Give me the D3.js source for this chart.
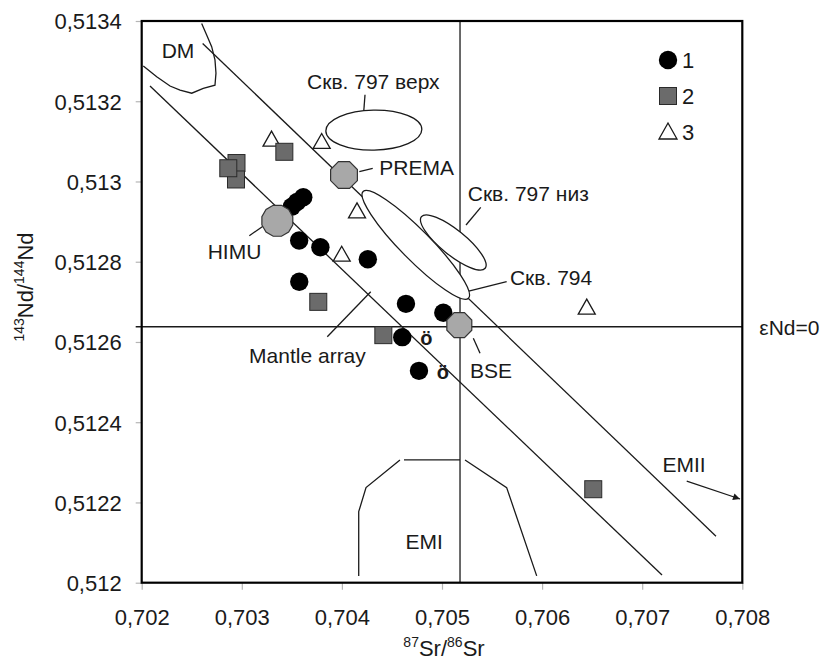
<!DOCTYPE html>
<html>
<head>
<meta charset="utf-8">
<script src="https://cdn.jsdelivr.net/npm/d3@7"></script>
<style>
  html, body { margin: 0; padding: 0; background: #fff; }
  svg { display: block; font-family: "Liberation Sans", Arial, sans-serif; }
</style>
</head>
<body>
<svg id="chart" width="826" height="662"></svg>
<script>
// ---- axis ticks ----
const xTicks = [0.702, 0.703, 0.704, 0.705, 0.706, 0.707, 0.708];
const xTickLabels = ["0,702", "0,703", "0,704", "0,705", "0,706", "0,707", "0,708"];
const yTicks = [0.512, 0.5122, 0.5124, 0.5126, 0.5128, 0.513, 0.5132, 0.5134];
const yTickLabels = ["0,512", "0,5122", "0,5124", "0,5126", "0,5128", "0,513", "0,5132", "0,5134"];

// ---- samples: [87Sr/86Sr, 143Nd/144Nd] ----
const group1 = [
  [0.703499, 0.512937], [0.703551, 0.512949], [0.703614, 0.512961],
  [0.703573, 0.512853], [0.703785, 0.512836], [0.704259, 0.512806],
  [0.703574, 0.512750], [0.704640, 0.512695], [0.705013, 0.512673],
  [0.704603, 0.512612], [0.704770, 0.512528]
];
const group2 = [
  [0.702947, 0.513046], [0.702942, 0.513005], [0.702865, 0.513033],
  [0.703425, 0.513074], [0.703764, 0.512700], [0.704414, 0.512617],
  [0.706511, 0.512233]
];
const group3 = [
  [0.703297, 0.513107], [0.703798, 0.513101], [0.704151, 0.512928],
  [0.703998, 0.512820], [0.706446, 0.512688]
];
// samples marked with "ö"
const markedSamples = [[0.704603, 0.512612], [0.704770, 0.512528]];

// ---- mantle reservoirs ----
const reservoirNames = ["HIMU", "PREMA", "BSE"];
const reservoirSr = [0.703355, 0.704021, 0.705173];
const reservoirNd = [0.512902, 0.513016, 0.512642];

// ---- reference lines ----
const bulkEarthSr = 0.70518;
const epsNdZero = 0.512638;
const mantleArrayUpper = [[0.702609, 0.513344], [0.707737, 0.512116]];
const mantleArrayLower = [[0.702083, 0.513238], [0.707198, 0.512019]];

// ---- reservoir fields ----
const dmOutline = [
  [0.702599, 0.513394], [0.702649, 0.513365], [0.702699, 0.513336], [0.702732, 0.513303],
  [0.702742, 0.513270], [0.702732, 0.513240], [0.702615, 0.513232], [0.702500, 0.513220],
  [0.702383, 0.513228], [0.702283, 0.513238], [0.702150, 0.513261], [0.702016, 0.513288]
];
const emiOutline = [
  [[0.704168, 0.512017], [0.704168, 0.512177], [0.704241, 0.512237], [0.704580, 0.512306]],
  [[0.704620, 0.512306], [0.705180, 0.512306]],
  [[0.705230, 0.512306], [0.705646, 0.512237], [0.705946, 0.512017]]
];

// ---- drill-hole fields (centres) ----
const holeNames = ["Скв. 797 верх", "Скв. 797 низ", "Скв. 794"];
const holeSr = [0.704319, 0.705113, 0.704738];
const holeNd = [0.513128, 0.512848, 0.512842];

// ---- legend ----
const legendLabels = ["1", "2", "3"];

// =========================================================
const svg = d3.select("#chart");
const L = 141.7, R = 742.3, T = 21, B = 582.7;

const x = d3.scaleLinear().domain([0.702, 0.708]).range([L, R]);
const y = d3.scaleLinear().domain([0.512, 0.5134]).range([B, T]);
const line = d3.line().x(d => x(d[0])).y(d => y(d[1]));

const INK = "#1a1a1a";
const TICK_FONT = 22, NOTE_FONT = 21;

// axes
const xAxis = svg.append("g")
  .attr("transform", `translate(0,${B})`)
  .call(d3.axisBottom(x).tickValues(xTicks)
    .tickFormat((d, i) => xTickLabels[i]).tickSize(7).tickPadding(20));
const yAxis = svg.append("g")
  .attr("transform", `translate(${L},0)`)
  .call(d3.axisLeft(y).tickValues(yTicks)
    .tickFormat((d, i) => yTickLabels[i]).tickSize(6).tickPadding(14));
[xAxis, yAxis].forEach(g => {
  g.select(".domain").remove();
  g.selectAll(".tick line").attr("stroke", "#b5b5b5").attr("stroke-width", 1.2);
  g.selectAll(".tick text")
    .attr("font-family", '"Liberation Sans", Arial, sans-serif')
    .attr("font-size", TICK_FONT).attr("fill", INK);
});
yAxis.selectAll(".tick text").attr("dy", "0.36em");

// axis titles
const xTitle = svg.append("text")
  .attr("x", 444).attr("y", 656).attr("text-anchor", "middle")
  .attr("font-size", TICK_FONT).attr("fill", INK);
xTitle.append("tspan").attr("font-size", 14).attr("dy", -9).text("87");
xTitle.append("tspan").attr("dy", 9).text("Sr/");
xTitle.append("tspan").attr("font-size", 14).attr("dy", -9).text("86");
xTitle.append("tspan").attr("dy", 9).text("Sr");

const yTitle = svg.append("text")
  .attr("transform", "translate(33,287) rotate(-90)")
  .attr("text-anchor", "middle")
  .attr("font-size", TICK_FONT).attr("fill", INK);
yTitle.append("tspan").attr("font-size", 14).attr("dy", -9).text("143");
yTitle.append("tspan").attr("dy", 9).text("Nd/");
yTitle.append("tspan").attr("font-size", 14).attr("dy", -9).text("144");
yTitle.append("tspan").attr("dy", 9).text("Nd");

// reference lines
const lines = svg.append("g").attr("fill", "none").attr("stroke", INK).attr("stroke-width", 1.3);
lines.append("line")
  .attr("x1", x(bulkEarthSr)).attr("x2", x(bulkEarthSr)).attr("y1", T).attr("y2", B);
lines.append("line")
  .attr("x1", L - 6).attr("x2", R).attr("y1", y(epsNdZero)).attr("y2", y(epsNdZero));
lines.append("path").attr("d", line(mantleArrayUpper));
lines.append("path").attr("d", line(mantleArrayLower));
lines.append("path").attr("d", line(dmOutline));
emiOutline.forEach(seg => lines.append("path").attr("d", line(seg)));

// drill-hole fields as rotated ellipses
const holeShape = [
  { rx: 48, ry: 20, angle: -1 },
  { rx: 41, ry: 12.5, angle: 39 },
  { rx: 75, ry: 15, angle: 45.4 }
];
holeNames.forEach((n, i) => {
  const cx = x(holeSr[i]), cy = y(holeNd[i]);
  svg.append("ellipse")
    .attr("cx", cx).attr("cy", cy)
    .attr("rx", holeShape[i].rx).attr("ry", holeShape[i].ry)
    .attr("transform", `rotate(${holeShape[i].angle},${cx},${cy})`)
    .attr("fill", "#fff").attr("stroke", INK).attr("stroke-width", 1.3);
});

// leader lines
const leaders = [
  [[0.704231, 0.513216], [0.704214, 0.5131615]],   // 797 верх
  [[0.704174, 0.5130244], [0.704308, 0.5130329]],  // PREMA
  [[0.705387, 0.5129356], [0.705240, 0.5128915]],  // 797 низ
  [[0.705247, 0.5127253], [0.705646, 0.5127502]],  // 794
  [[0.703215, 0.512889], [0.703075, 0.5128649]],   // HIMU
  [[0.705313, 0.5126091], [0.705380, 0.5125717]],  // BSE
  [[0.703854, 0.5126131], [0.704288, 0.5127253]]   // mantle array
];
leaders.forEach(s => lines.append("path").attr("d", line(s)));

// EMII arrow
svg.append("defs").append("marker")
  .attr("id", "arrow").attr("viewBox", "0 0 10 10").attr("refX", 10).attr("refY", 5)
  .attr("markerWidth", 9).attr("markerHeight", 7).attr("markerUnits", "userSpaceOnUse")
  .attr("orient", "auto")
  .append("path").attr("d", "M0,0 L10,5 L0,10 z").attr("fill", INK);
svg.append("path")
  .attr("d", line([[0.707445, 0.5122534], [0.707977, 0.5122086]]))
  .attr("stroke", INK).attr("stroke-width", 1.3).attr("fill", "none")
  .attr("marker-end", "url(#arrow)");

// plot frame
svg.append("rect")
  .attr("x", L).attr("y", T).attr("width", R - L).attr("height", B - T)
  .attr("fill", "none").attr("stroke", "#000").attr("stroke-width", 2.2);

// sample symbols
const SQ = 17;
const triPath = (cx, cy, w = 17, h = 15) =>
  `M${cx},${cy - h / 2} L${cx + w / 2},${cy + h / 2} L${cx - w / 2},${cy + h / 2} Z`;

svg.append("g").selectAll("path").data(group3).join("path")
  .attr("d", d => triPath(x(d[0]), y(d[1])))
  .attr("fill", "#fff").attr("stroke", INK).attr("stroke-width", 1.3);

svg.append("g").selectAll("rect").data(group2).join("rect")
  .attr("x", d => x(d[0]) - SQ / 2).attr("y", d => y(d[1]) - SQ / 2)
  .attr("width", SQ).attr("height", SQ)
  .attr("fill", "#6b6b6b").attr("stroke", "#2a2a2a").attr("stroke-width", 1);

svg.append("g").selectAll("circle").data(group1).join("circle")
  .attr("cx", d => x(d[0])).attr("cy", d => y(d[1])).attr("r", 9.2)
  .attr("fill", "#000");

// reservoir polygons (HIMU drawn with more facets)
const polygon = (cx, cy, r, n) => d3.range(n).map(k => {
  const a = Math.PI / n + k * 2 * Math.PI / n;
  return [cx + r * Math.cos(a), cy + r * Math.sin(a)];
});
const reservoirR = [16, 14.5, 13.5];
const reservoirSides = [12, 8, 8];
reservoirNames.forEach((n, i) => {
  svg.append("path")
    .attr("d", "M" + polygon(x(reservoirSr[i]), y(reservoirNd[i]), reservoirR[i], reservoirSides[i]).join("L") + "Z")
    .attr("fill", "#a8a8a8").attr("stroke", "#333").attr("stroke-width", 1.2);
});

// annotations
const notes = [
  { t: "DM", p: [0.702363, 0.5133277], a: "middle" },
  { t: holeNames[0], p: [0.704314, 0.5132487], a: "middle" },
  { t: reservoirNames[1], p: [0.704374, 0.5130353], a: "start" },
  { t: holeNames[1], p: [0.705862, 0.5129705], a: "middle" },
  { t: holeNames[2], p: [0.705679, 0.5127602], a: "start" },
  { t: reservoirNames[0], p: [0.702927, 0.512825], a: "middle" },
  { t: reservoirNames[2], p: [0.705280, 0.51253], a: "start" },
  { t: "Mantle array", p: [0.703656, 0.5125675], a: "middle" },
  { t: "EMI", p: [0.704823, 0.5121022], a: "middle" },
  { t: "EMII", p: [0.707418, 0.5122958], a: "middle" }
];
svg.append("g").selectAll("text").data(notes).join("text")
  .attr("x", d => x(d.p[0])).attr("y", d => y(d.p[1])).attr("dy", "0.36em")
  .attr("text-anchor", d => d.a).attr("font-size", NOTE_FONT).attr("fill", INK)
  .text(d => d.t);

svg.append("text")
  .attr("x", R + 17).attr("y", y(epsNdZero)).attr("dy", "0.4em")
  .attr("font-size", NOTE_FONT).attr("fill", INK).text("εNd=0");

svg.append("g").selectAll("text").data(markedSamples).join("text")
  .attr("x", d => x(d[0]) + 24).attr("y", d => y(d[1]) + 1).attr("dy", "0.36em")
  .attr("text-anchor", "middle").attr("font-size", 20).attr("font-weight", "bold")
  .attr("fill", INK).text("ö");

// legend
const lg = svg.append("g").attr("transform", "translate(668,60)");
const rowH = 36;
lg.append("circle").attr("cx", 0).attr("cy", 0).attr("r", 9.2).attr("fill", "#000");
lg.append("rect").attr("x", -SQ / 2).attr("y", rowH - SQ / 2).attr("width", SQ).attr("height", SQ)
  .attr("fill", "#6b6b6b").attr("stroke", "#2a2a2a");
lg.append("path").attr("d", triPath(0, rowH * 2 - 1, 18, 16))
  .attr("fill", "#fff").attr("stroke", INK).attr("stroke-width", 1.3);
lg.selectAll("text.lab").data(legendLabels).join("text")
  .attr("class", "lab")
  .attr("x", 14).attr("y", (d, i) => i * rowH).attr("dy", "0.36em")
  .attr("font-size", TICK_FONT).attr("fill", INK).text(d => d);
</script>
</body>
</html>
